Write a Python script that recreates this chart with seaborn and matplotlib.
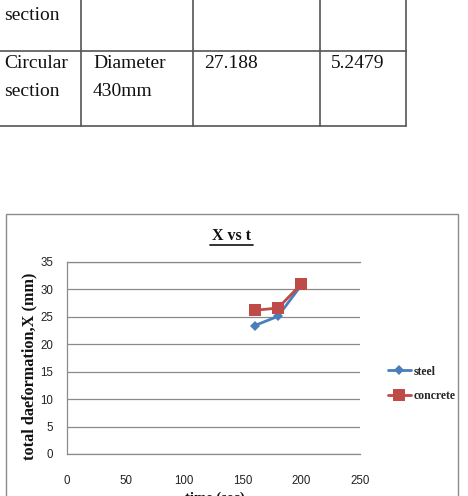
import matplotlib
matplotlib.use("Agg")
import matplotlib.pyplot as plt
import seaborn as sns
import pandas as pd
from matplotlib.lines import Line2D
from matplotlib.patches import Rectangle

# ---- data ----
time_s = [160, 180, 200]
steel = [23.4, 25.1, 30.8]
concrete = [26.2, 26.6, 31.0]
series_names = ["steel", "concrete"]
series_colors = ["#4A7EBB", "#BE4B48"]
x_ticks = [0, 50, 100, 150, 200, 250]
y_ticks = [0, 5, 10, 15, 20, 25, 30, 35]
table_row1 = ["section", "", "", ""]
table_row2 = ["Circular\nsection", "Diameter\n430mm", "27.188", "5.2479"]

df = pd.DataFrame({
    "t": time_s * 2,
    "X": steel + concrete,
    "series": ["steel"] * len(time_s) + ["concrete"] * len(time_s),
})

sns.set_theme(style="white")
plt.rcParams["font.family"] = ["Liberation Serif", "DejaVu Sans"]

W, H = 468, 496
fig = plt.figure(figsize=(W / 100, H / 100), dpi=100)
fig.patch.set_facecolor("white")

def fx(px):
    return px / W

def fy(py):
    return 1 - py / H

# ---- table at top ----
tcol = "#555555"
for xv in [81, 193, 320, 406]:
    fig.add_artist(Line2D([fx(xv), fx(xv)], [fy(0), fy(126)], color=tcol, lw=1.2))
for yv in [51, 126]:
    fig.add_artist(Line2D([0, fx(406)], [fy(yv), fy(yv)], color=tcol, lw=1.2))
col_x = [4, 93, 204, 331]
for cx, txt in zip(col_x, table_row1):
    if txt:
        fig.text(fx(cx), fy(16), txt, fontsize=14, va="center", ha="left",
                 color="#111111")
for cx, txt in zip(col_x, table_row2):
    for i, ln in enumerate(txt.split("\n")):
        fig.text(fx(cx), fy(64 + 27 * i), ln, fontsize=14, va="center",
                 ha="left", color="#111111")

# ---- chart frame ----
fig.add_artist(Rectangle((fx(6), fy(520)), fx(458) - fx(6), fy(214) - fy(520),
                         fill=False, edgecolor="#8c8c8c", lw=1.0,
                         transform=fig.transFigure))

# ---- axes ----
ax = fig.add_axes([fx(67), fy(454), fx(360) - fx(67), fy(262) - fy(454)])
sns.lineplot(data=df, x="t", y="X", hue="series", style="series",
             hue_order=series_names, style_order=series_names,
             palette=series_colors, markers={"steel": "D", "concrete": "s"},
             dashes=False, lw=2.0, markersize=7, markeredgewidth=0,
             ax=ax, legend=False)
for ln, ms in zip(ax.lines, [5.5, 8]):
    ln.set_markersize(ms)

ax.set_xlim(0, 250)
ax.set_ylim(0, 35)
ax.set_xticks(x_ticks)
ax.set_yticks(y_ticks)
ax.set_xticklabels([str(v) for v in x_ticks], family="Liberation Sans",
                   fontsize=8.3, color="#222222")
ax.set_yticklabels([str(v) for v in y_ticks], family="Liberation Sans",
                   fontsize=8.3, color="#222222")
ax.tick_params(axis="x", length=0, pad=15)
ax.tick_params(axis="y", length=0, pad=10)
ax.grid(axis="y", color="#8a8a8a", lw=0.9)
ax.set_axisbelow(True)
ax.spines["right"].set_visible(False)
for s in ["left", "bottom", "top"]:
    ax.spines[s].set_color("#8a8a8a")
    ax.spines[s].set_linewidth(0.9)
ax.set_xlabel("")
ax.set_ylabel("")

# title with underline
fig.text(fx(232), fy(236), "Χ vs t", fontsize=11.5, fontweight="bold",
         ha="center", va="center", color="#111111")
fig.add_artist(Line2D([fx(210), fx(253)], [fy(245), fy(245)], color="#111111", lw=1.2))

# y label
fig.text(fx(29), fy(366), "total daeformation,Χ (mm)", fontsize=11.7,
         fontweight="bold", rotation=90, ha="center", va="center",
         color="#111111")

# x label (mostly cut off by the page edge, as in the reference)
fig.text(fx(215), fy(492), "time (sec)", fontsize=10.5, fontweight="bold",
         ha="center", va="top", color="#111111")

# legend
handles = [
    Line2D([], [], color=series_colors[0], marker="D", markersize=5, lw=2,
           markeredgewidth=0),
    Line2D([], [], color=series_colors[1], marker="s", markersize=8, lw=2,
           markeredgewidth=0),
]
fig.legend(handles, series_names, loc="center left",
           bbox_to_anchor=(fx(377), fy(384)), frameon=False,
           prop={"family": "Liberation Serif", "weight": "bold", "size": 8.5},
           handlelength=2.0, handletextpad=0.2, labelspacing=1.1)

fig.savefig("out.png", dpi=100)
